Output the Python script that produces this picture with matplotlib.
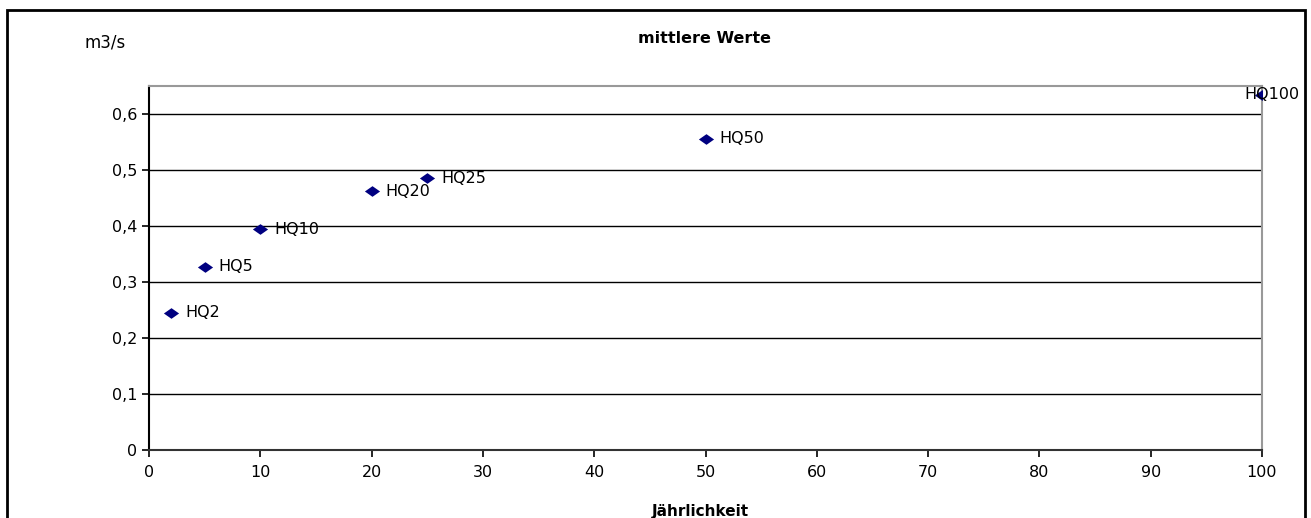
import matplotlib.pyplot as plt
from matplotlib.patches import Rectangle
from matplotlib.ticker import FuncFormatter

plt.rcParams['font.family'] = ['DejaVu Sans']

jaehrlichkeit = [2, 5, 10, 20, 25, 50, 100]
abfluss = [0.245, 0.327, 0.394, 0.462, 0.485, 0.556, 0.634]
namen = ["HQ2", "HQ5", "HQ10", "HQ20", "HQ25", "HQ50", "HQ100"]

fig = plt.figure(figsize=(13.11, 5.18), dpi=100)
ax = fig.add_axes([0.1137, 0.1313, 0.8489, 0.7027])

# Rahmen um das ganze Diagramm
fig.patches.append(Rectangle((7 / 1311, -0.05), 1298 / 1311, 1.05 - 10 / 518,
                             transform=fig.transFigure, fill=False,
                             edgecolor="black", linewidth=2, clip_on=False))

# flache Raute als Marker
raute = [(-1, 0), (0, 0.7), (1, 0), (0, -0.7), (-1, 0)]
ax.scatter(jaehrlichkeit, abfluss, marker=raute, s=120, color="#000080",
           linewidths=0, zorder=3)

for x, y, n in zip(jaehrlichkeit, abfluss, namen):
    if n == "HQ100":
        ax.annotate(n, (x, y), xytext=(27, 0), textcoords="offset points",
                    ha="right", va="center", fontsize=11.5, annotation_clip=False)
    else:
        ax.annotate(n, (x, y), xytext=(10, 0), textcoords="offset points",
                    ha="left", va="center", fontsize=11.5)

ax.set_xlim(0, 100)
ax.set_ylim(0, 0.65)
ax.set_xticks(range(0, 101, 10))
ax.set_yticks([0, 0.1, 0.2, 0.3, 0.4, 0.5, 0.6])
ax.yaxis.set_major_formatter(FuncFormatter(lambda v, p: "0" if v == 0 else f"{v:.1f}".replace(".", ",")))
ax.grid(axis="y", color="black", linewidth=1)
ax.set_axisbelow(True)

for s in ["top", "right"]:
    ax.spines[s].set_color("#999999")
    ax.spines[s].set_linewidth(1.5)
ax.spines["left"].set_color("black")
ax.spines["left"].set_linewidth(1.5)
ax.spines["bottom"].set_color("#333333")
ax.spines["bottom"].set_linewidth(1.5)

ax.tick_params(axis="both", labelsize=11.5, direction="out", length=5, width=1.2)
ax.tick_params(axis="x", pad=6)

fig.text(0.537, 0.926, "mittlere Werte", ha="center", va="center", fontsize=11.5, fontweight="bold")
fig.text(0.08, 0.917, "m3/s", ha="center", va="center", fontsize=12)
fig.text(0.534, 0.012, "Jährlichkeit", ha="center", va="center", fontsize=11, fontweight="bold")

fig.savefig("out.png", dpi=100)
